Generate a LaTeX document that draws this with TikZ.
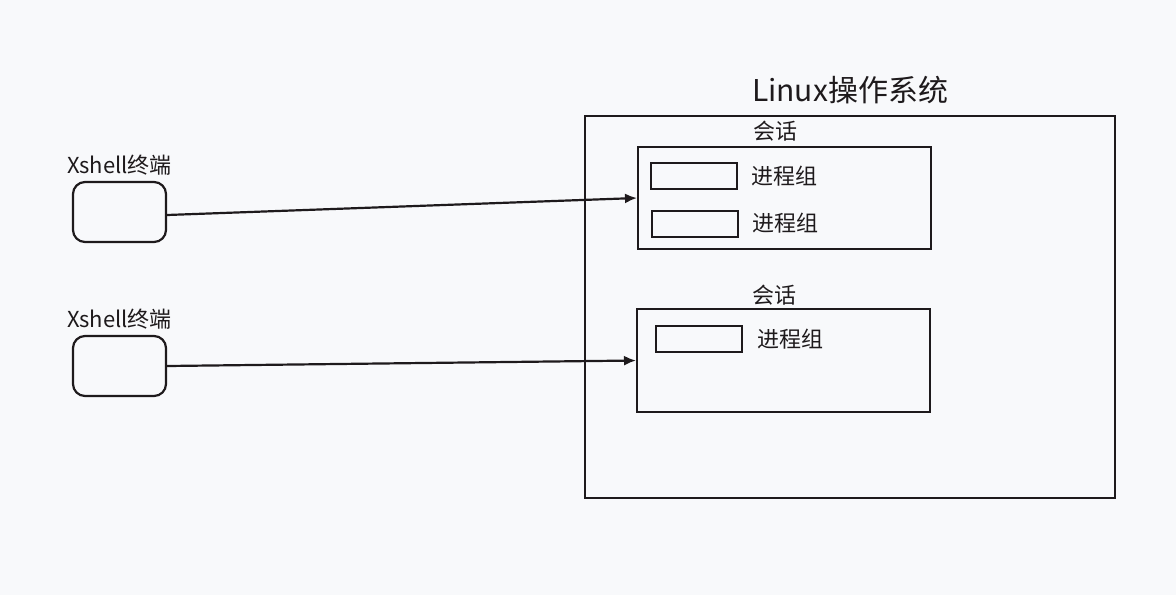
\documentclass[tikz,border=0pt]{standalone}
\usepackage{fontspec}
\setmainfont{Noto Sans CJK SC}
\usetikzlibrary{arrows.meta,positioning}
\definecolor{paper}{RGB}{248,249,251}
\definecolor{ink}{RGB}{30,26,28}
\tikzset{
  terminal/.style={draw=ink,line width=1.1pt,rounded corners=6pt,
    minimum width=46.5pt,minimum height=30pt,inner sep=0pt},
  frame/.style={draw=ink,line width=1pt,inner sep=0pt},
  group/.style={draw=ink,line width=1pt,minimum width=43pt,minimum height=13pt,inner sep=0pt},
  label/.style={font=\fontsize{11pt}{13pt}\selectfont,text=ink,inner sep=0pt},
  link/.style={line width=1.1pt,ink,-{Latex[length=6pt,width=5pt]}}
}
\begin{document}
\begin{tikzpicture}[x=0.5pt,y=-0.5pt]
  \useasboundingbox[fill=paper] (0,0) rectangle (1176,595);
  % terminals
  \node[terminal] (t1) at (119.5,212) {};
  \node[label,above=2.5pt of t1] (t1l) {Xshell终端};
  \node[terminal] (t2) at (119.5,366) {};
  \node[label,above=2.5pt of t2] (t2l) {Xshell终端};
  % operating system
  \node[frame,minimum width=265pt,minimum height=191pt] (os) at (850,307) {};
  \node[label,font=\fontsize{15pt}{18pt}\selectfont] (osl) at (850,90) {Linux操作系统};
  % sessions
  \node[frame,minimum width=146.5pt,minimum height=51pt] (s1) at (784.5,198) {};
  \node[label] (s1l) at (775,131) {会话};
  \node[group] (g1) at (694,176) {};
  \node[label,right=6.5pt of g1] (g1l) {进程组};
  \node[group] (g2) at (695,223.5) {};
  \node[label,right=6.5pt of g2] (g2l) {进程组};
  \node[frame,minimum width=146.5pt,minimum height=51.5pt] (s2) at (783.5,360.5) {};
  \node[label] (s2l) at (774,295) {会话};
  \node[group] (g3) at (699,339) {};
  \node[label,right=7pt of g3] (g3l) {进程组};
  % connections
  \draw[link] ([yshift=-1.5pt]t1.east) -- (s1.west);
  \draw[link] (t2.east) -- (s2.west);
\end{tikzpicture}
\end{document}
